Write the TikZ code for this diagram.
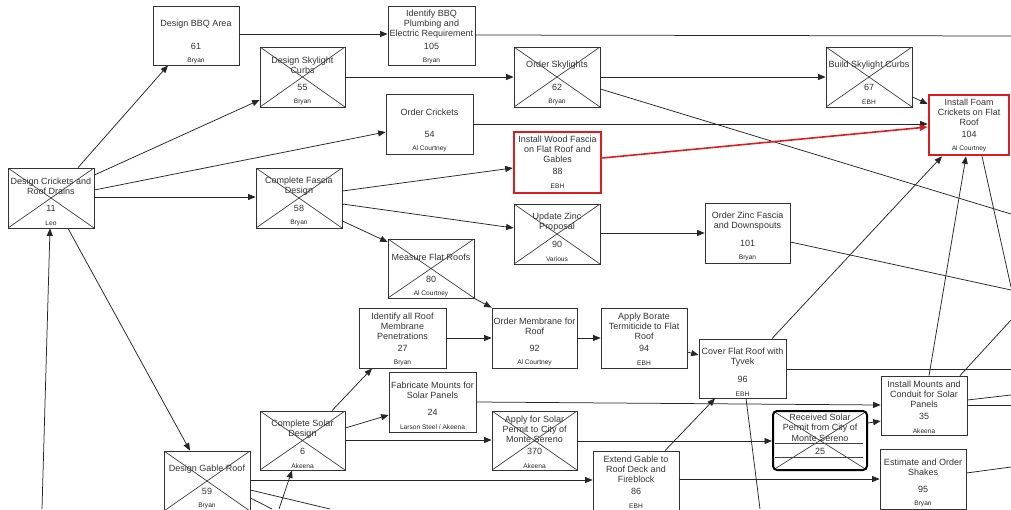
\documentclass[tikz,border=0pt]{standalone}
\usepackage{fontspec}
\setmainfont{Liberation Sans}
\usetikzlibrary{arrows.meta,calc}
\definecolor{critred}{RGB}{222,28,32}
\newcommand\task[9]{%
  \pgfmathsetmacro\tkW{#4-#2}\pgfmathsetmacro\tkH{#5-#3}%
  \pgfmathsetmacro\tkX{(#2+#4)/2}\pgfmathsetmacro\tkY{(#3+#5)/2}%
  \node[#6, minimum width=\tkW pt, minimum height=\tkH pt] (#1) at (\tkX,\tkY) {};
  \node[ttl] at ([yshift=-18.5pt]#1.north) {#7};
  \node[num] at ([yshift=-41pt]#1.north) {#8};
  \node[who] at ([yshift=-55.5pt]#1.north) {#9};
}
\tikzset{
  box/.style={draw=black!80, line width=0.8pt, rectangle, inner sep=0pt, fill=white},
  xbox/.style={box, path picture={
      \draw[black!75, line width=0.7pt] (path picture bounding box.north west) -- (path picture bounding box.south east)
        (path picture bounding box.north east) -- (path picture bounding box.south west);}},
  redbox/.style={draw=critred, line width=2.6pt, rectangle, inner sep=0pt, fill=white},
  ttl/.style={align=center, inner sep=0pt, text=black!80, font=\fontsize{9}{10.3}\selectfont},
  num/.style={inner sep=0pt, text=black!80, font=\fontsize{9}{10}\selectfont},
  who/.style={inner sep=0pt, text=black!85, font=\fontsize{6.6}{7}\selectfont},
  ln/.style={draw=black!85, line width=0.75pt},
  arr/.style={ln, -{Triangle[length=7.5pt,width=6pt]}},
  redarr/.style={draw=critred, line width=1.6pt, -{Triangle[length=8pt,width=6pt]}},
}
\begin{document}
\begin{tikzpicture}[x=1pt,y=-1pt]
\useasboundingbox (0,0) rectangle (1011,509);
\clip (0,0) rectangle (1011,509);
\fill[white] (0,0) rectangle (1011,509);

% free ends
\coordinate (e6) at (42,509);
\coordinate (e8) at (1011,36);
\coordinate (e11) at (1011,214);
\coordinate (e19) at (1011,290);
\coordinate (e25) at (1011,369);
\coordinate (e26) at (760,509);
\coordinate (e29) at (1011,287);
\coordinate (e30) at (1011,320);
\coordinate (e31) at (1011,395);
\coordinate (e32) at (1011,405);
\coordinate (e33) at (1011,467);
\coordinate (e42) at (279,509);
\coordinate (e43) at (330,509);
\coordinate (e44) at (272,509);

% tasks
\task{n61}{153}{6}{239}{65}{box}{Design BBQ Area}{61}{Bryan}
\task{n105}{388}{6}{475}{65}{box}{Identify BBQ\\Plumbing and\\Electric Requirement}{105}{Bryan}
\task{n55}{260}{47}{345}{107}{xbox}{Design Skylight\\Curbs}{55}{Bryan}
\task{n62}{514}{47}{600}{107}{xbox}{Order Skylights}{62}{Bryan}
\task{n67}{826}{47}{912}{107}{xbox}{Build Skylight Curbs}{67}{EBH}
\task{n54}{386}{94}{473}{154}{box}{Order Crickets}{54}{Al Courtney}
\task{n104}{929}{95}{1009}{155}{redbox}{Install Foam\\Crickets on Flat\\Roof}{104}{Al Courtney}
\task{n11}{8}{168}{94}{228}{xbox}{Design Crickets and\\Roof Drains}{11}{Leo}
\task{n58}{256}{168}{342}{228}{xbox}{Complete Fascia\\Design}{58}{Bryan}
\task{n88}{514}{132}{601}{193}{redbox}{Install Wood Fascia\\on Flat Roof and\\Gables}{88}{EBH}
\task{n90}{514}{204}{600}{264}{xbox}{Update Zinc\\Proposal}{90}{Various}
\task{n101}{705}{203}{790}{263}{box}{Order Zinc Fascia\\and Downspouts}{101}{Bryan}
\task{n80}{388}{239}{474}{298}{xbox}{Measure Flat Roofs}{80}{Al Courtney}
\task{n27}{359}{308}{446}{368}{box}{Identify all Roof\\Membrane\\Penetrations}{27}{Bryan}
\task{n92}{492}{308}{577}{368}{box}{Order Membrane for\\Roof}{92}{Al Courtney}
\task{n94}{601}{308}{687}{368}{box}{Apply Borate\\Termiticide to Flat\\Roof}{94}{EBH}
\task{n96}{699}{339}{786}{398}{box}{Cover Flat Roof with\\Tyvek}{96}{EBH}
\task{n24}{389}{372}{476}{432}{box}{Fabricate Mounts for\\Solar Panels}{24}{Larson Steel / Akeena}
\task{n6}{260}{411}{345}{470}{xbox}{Complete Solar\\Design}{6}{Akeena}
\task{n370}{492}{411}{577}{470}{xbox}{Apply for Solar\\Permit to City of\\Monte Sereno}{370}{Akeena}
\task{n35}{881}{376}{967}{435}{box}{Install Mounts and\\Conduit for Solar\\Panels}{35}{Akeena}
\task{n59}{164}{451}{250}{511}{xbox}{Design Gable Roof}{59}{Bryan}
\task{n86}{593}{451}{679}{511}{box}{Extend Gable to\\Roof Deck and\\Fireblock}{86}{EBH}
\task{n95}{880}{449}{966}{509}{box}{Estimate and Order\\Shakes}{95}{Bryan}

% milestone 25
\node[draw=black, line width=2pt, rounded corners=4pt, rectangle, inner sep=0pt, fill=white,
      minimum width=94pt, minimum height=59pt,
      path picture={\draw[black!75, line width=0.7pt] (path picture bounding box.north west) -- (path picture bounding box.south east)
        (path picture bounding box.north east) -- (path picture bounding box.south west);}]
      (n25) at (820,440.5) {};
\draw[black!75, line width=0.7pt] ([yshift=-33pt]n25.north west) ++(3,0) -- ++(88,0);
\draw[black!75, line width=0.7pt] ([yshift=-47pt]n25.north west) ++(3,0) -- ++(88,0);
\node[ttl] at ([yshift=-17.5pt]n25.north) {Received Solar\\Permit from City of\\Monte Sereno};
\node[num] at ([yshift=-41pt]n25.north) {25};

% connectors
\draw[arr] (n11.north -| 78,0) -- (n61.south -| 168,0);
\draw[arr] (n11.east |- 0,175) -- (n55.west |- 0,100);
\draw[arr] (n11.east |- 0,190) -- (n54.west |- 0,132);
\draw[arr] (n11.east |- 0,197) -- (n58.west |- 0,197);
\draw[arr] (n11.south -| 68,0) -- (n59.north -| 190,0);
\draw[arr] (e6) -- (n11.south -| 50,0);
\draw[arr] (n61.east |- 0,34) -- (n105.west |- 0,34);
\draw[ln] (n105.east |- 0,35) -- (e8);
\draw[arr] (n55.east |- 0,77) -- (n62.west |- 0,77);
\draw[arr] (n62.east |- 0,77) -- (n67.west |- 0,77);
\draw[ln] (n62.east |- 0,89) -- (e11);
\draw[arr] (n67.east |- 0,97) -- (n104.west |- 0,104);
\draw[arr] (n54.east |- 0,124) -- (n104.west |- 0,124);
\draw[arr] (n58.east |- 0,191) -- (n88.west |- 0,168);
\draw[arr] (n58.east |- 0,204) -- (n90.west |- 0,228);
\draw[arr] (n58.east |- 0,221) -- (n80.west |- 0,242);
\draw[arr] (n90.east |- 0,233) -- (n101.west |- 0,233);
\draw[ln] (n101.east |- 0,242) -- (e19);
\draw[arr] (n80.south east) -- (n92.north west);
\draw[arr] (n27.east |- 0,338) -- (n92.west |- 0,338);
\draw[arr] (n92.east |- 0,338) -- (n94.west |- 0,338);
\draw[arr] (n94.east |- 0,352) -- (n96.west |- 0,355);
\draw[arr] (n96.north -| 772,0) -- (n104.south -| 942,0);
\draw[ln] (n96.east |- 0,369) -- (e25);
\draw[ln] (n96.south -| 746,0) -- (e26);
\draw[arr] (n86.north -| 665,0) -- (n96.south -| 715,0);
\draw[arr] (n35.north -| 929,0) -- (n104.south -| 966,0);
\draw[ln] (n104.south -| 982,0) -- (e29);
\draw[ln] (n35.north -| 960,0) -- (e30);
\draw[ln] (n35.east |- 0,400) -- (e31);
\draw[ln] (n35.east |- 0,405) -- (e32);
\draw[ln] (n95.east |- 0,473) -- (e33);
\draw[arr] (n24.east |- 0,402) -- (n35.west |- 0,405);
\draw[arr] (n25.east |- 0,423) -- (n35.west |- 0,421);
\draw[arr] (n370.east |- 0,441) -- (n25.west |- 0,441);
\draw[arr] (n59.east |- 0,480) -- (n86.west |- 0,480);
\draw[arr] (n86.east |- 0,479) -- (n95.west |- 0,479);
\draw[arr] (n6.north -| 332,0) -- (n27.south -| 372,0);
\draw[arr] (n6.east |- 0,428) -- (n24.west |- 0,415);
\draw[arr] (n6.east |- 0,440) -- (n370.west |- 0,440);
\draw[arr] (e42) -- (n6.south -| 292,0);
\draw[ln] (n59.east |- 0,490) -- (e43);
\draw[ln] (n59.east |- 0,498) -- (e44);
\draw[redarr] (n88.east |- 0,158) -- (n104.west |- 0,127);
\end{tikzpicture}
\end{document}
